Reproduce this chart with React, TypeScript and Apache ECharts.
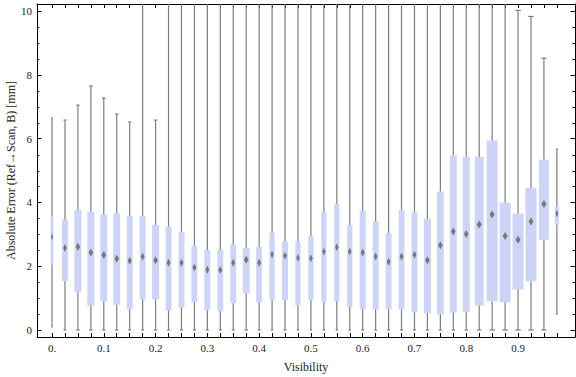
import React, { useEffect, useRef } from "react";
import * as echarts from "echarts";

// Visibility bins (box positions)
const visibility = [
  0, 0.025, 0.05, 0.075, 0.1, 0.125, 0.15, 0.175, 0.2, 0.225,
  0.25, 0.275, 0.3, 0.325, 0.35, 0.375, 0.4, 0.425, 0.45, 0.475,
  0.5, 0.525, 0.55, 0.575, 0.6, 0.625, 0.65, 0.675, 0.7, 0.725,
  0.75, 0.775, 0.8, 0.825, 0.85, 0.875, 0.9, 0.925, 0.95, 0.975,
];
const whiskerLow = [
  0.1, 0, 0, 0, 0, 0, 0, 0, 0, 0,
  0, 0, 0, 0, 0, 0, 0, 0, 0, 0,
  0, 0, 0, 0, 0, 0, 0, 0, 0, 0,
  0, 0, 0, 0, 0, 0, 0, 0, 0, 0.5,
];
const q1 = [
  2.05, 1.53, 1.18, 0.76, 0.9, 0.79, 0.65, 0.96, 0.96, 0.61,
  0.71, 0.87, 0.62, 0.59, 0.84, 1.15, 0.87, 0.94, 0.94, 0.77,
  0.94, 0.87, 0.9, 0.71, 0.65, 0.65, 0.65, 0.65, 0.55, 0.52,
  0.49, 0.55, 0.56, 0.77, 0.9, 0.87, 1.27, 1.53, 2.83, 3.3,
];
const median = [
  2.92, 2.57, 2.61, 2.43, 2.35, 2.23, 2.17, 2.3, 2.19, 2.11,
  2.11, 1.96, 1.89, 1.88, 2.11, 2.2, 2.11, 2.37, 2.33, 2.26,
  2.25, 2.46, 2.59, 2.46, 2.43, 2.3, 2.14, 2.3, 2.36, 2.19,
  2.66, 3.09, 3.01, 3.31, 3.62, 2.95, 2.83, 3.4, 3.95, 3.65,
];
const q3 = [
  3.57, 3.46, 3.77, 3.71, 3.62, 3.65, 3.58, 3.58, 3.3, 3.24,
  3.08, 2.64, 2.51, 2.51, 2.68, 2.58, 2.6, 3.05, 2.77, 2.77,
  2.95, 3.71, 3.96, 3.3, 3.74, 3.4, 3.05, 3.77, 3.71, 3.49,
  4.34, 5.48, 5.43, 5.43, 5.94, 3.99, 3.65, 4.46, 5.34, 3.87,
];
// values beyond the plot range (> 10.2) are clipped in the picture
const whiskerHigh = [
  6.65, 6.58, 7.05, 7.65, 7.27, 6.77, 6.52, 12, 6.58, 12,
  12, 12, 12, 12, 12, 12, 12, 12, 12, 12,
  12, 12, 12, 12, 12, 12, 12, 12, 12, 12,
  12, 12, 12, 12, 12, 12, 10.02, 9.83, 8.52, 5.67,
];
// relative box width (fraction of the bin spacing)
const boxWeight = [
  0.23, 0.46, 0.54, 0.54, 0.54, 0.54, 0.46, 0.46, 0.54, 0.46,
  0.46, 0.46, 0.46, 0.46, 0.46, 0.54, 0.46, 0.4, 0.46, 0.4,
  0.4, 0.4, 0.4, 0.4, 0.46, 0.46, 0.46, 0.46, 0.46, 0.54,
  0.54, 0.54, 0.54, 0.69, 0.85, 0.85, 0.85, 0.85, 0.77, 0.31,
];

const xLabelValues = [0, 0.1, 0.2, 0.3, 0.4, 0.5, 0.6, 0.7, 0.8, 0.9];
const xTickLabels = ["0.", "0.1", "0.2", "0.3", "0.4", "0.5", "0.6", "0.7", "0.8", "0.9"];
const yMajorTicks = [0, 2, 4, 6, 8, 10];
const yMinorTicks = [
  0.5, 1, 1.5, 2.5, 3, 3.5, 4.5, 5, 5.5, 6.5, 7, 7.5, 8.5, 9, 9.5,
];

const X_MIN = -0.029;
const X_MAX = 1.01;
const Y_MIN = -0.22;
const Y_MAX = 10.22;
const BIN = 0.025;

const FONT = "'Liberation Serif', 'DejaVu Serif', serif";
const TEXT = "#222";
const BOX = "#CDD4F5";
const WHISKER = "#7d7d7d";
const MEDIAN = "#777";

export default function App() {
  const ref = useRef<HTMLDivElement>(null);

  useEffect(() => {
    if (!ref.current) return;
    const chart = echarts.init(ref.current, undefined, { renderer: "svg" });

    const data = visibility.map((v, i) => [
      v,
      whiskerLow[i],
      q1[i],
      median[i],
      q3[i],
      whiskerHigh[i],
      boxWeight[i],
    ]);

    const lineStyle = { color: "#000", width: 1 };

    const option: any = {
      animation: false,
      textStyle: { fontFamily: FONT },
      grid: { left: 37, right: 1, top: 4, bottom: 40, outerBoundsMode: "none", containLabel: false },
      xAxis: [
        {
          type: "value",
          position: "bottom",
          min: X_MIN,
          max: X_MAX,
          name: "Visibility",
          nameLocation: "middle",
          nameGap: 24,
          nameMoveOverlap: false,
          nameTextStyle: { fontFamily: FONT, fontSize: 12, color: TEXT },
          axisLine: { show: true, onZero: false, lineStyle },
          axisTick: {
            show: true,
            inside: true,
            length: 4,
            customValues: visibility,
            lineStyle,
          },
          axisLabel: {
            show: true,
            customValues: xLabelValues,
            margin: 5,
            fontFamily: FONT,
            fontSize: 11,
            color: TEXT,
            formatter: (v: number) => {
              const k = xLabelValues.findIndex((t) => Math.abs(t - v) < 1e-6);
              return k >= 0 ? xTickLabels[k] : "";
            },
          },
          splitLine: { show: false },
        },
        {
          type: "value",
          position: "top",
          min: X_MIN,
          max: X_MAX,
          axisLine: { show: true, onZero: false, lineStyle },
          axisTick: {
            show: true,
            inside: true,
            length: 4,
            customValues: visibility,
            lineStyle,
          },
          axisLabel: { show: false },
          splitLine: { show: false },
        },
      ],
      yAxis: [
        {
          type: "value",
          position: "left",
          min: Y_MIN,
          max: Y_MAX,
          name: "Absolute Error (Ref\u2192Scan, B) [mm]",
          nameLocation: "middle",
          nameGap: 20,
          nameMoveOverlap: false,
          nameTextStyle: { fontFamily: FONT, fontSize: 12, color: TEXT },
          axisLine: { show: true, onZero: false, lineStyle },
          axisTick: {
            show: true,
            inside: true,
            length: 4.5,
            customValues: yMajorTicks,
            lineStyle,
          },
          axisLabel: {
            show: true,
            customValues: yMajorTicks,
            margin: 5,
            fontFamily: FONT,
            fontSize: 11,
            color: TEXT,
          },
          splitLine: { show: false },
        },
        {
          type: "value",
          position: "right",
          min: Y_MIN,
          max: Y_MAX,
          axisLine: { show: true, onZero: false, lineStyle },
          axisTick: {
            show: true,
            inside: true,
            length: 4.5,
            customValues: yMajorTicks,
            lineStyle,
          },
          axisLabel: { show: false },
          splitLine: { show: false },
        },
      ],
      series: [
        {
          // minor ticks on left and right frame
          type: "custom",
          xAxisIndex: 0,
          yAxisIndex: 0,
          clip: false,
          silent: true,
          data: yMinorTicks.map((v) => [X_MIN, v]),
          encode: { x: 0, y: 1 },
          renderItem: (params: any, api: any) => {
            const cs = params.coordSys;
            const p = api.coord([X_MIN, api.value(1)]);
            const y = Math.round(p[1]) + 0.5;
            const st = { stroke: "#000", lineWidth: 1 };
            return {
              type: "group",
              children: [
                { type: "line", shape: { x1: cs.x, y1: y, x2: cs.x + 2.5, y2: y }, style: st },
                {
                  type: "line",
                  shape: { x1: cs.x + cs.width - 2.5, y1: y, x2: cs.x + cs.width, y2: y },
                  style: st,
                },
              ],
            };
          },
        },
        {
          type: "custom",
          xAxisIndex: 0,
          yAxisIndex: 0,
          clip: true,
          data,
          encode: { x: 0, y: [1, 2, 3, 4, 5] },
          renderItem: (params: any, api: any) => {
            const x = api.value(0);
            const lo = api.value(1);
            const a = api.value(2);
            const m = api.value(3);
            const b = api.value(4);
            const hi = api.value(5);
            const wf = api.value(6);
            const slot = api.size([BIN, 0])[0];
            const w = slot * wf;
            const pLo = api.coord([x, lo]);
            const pA = api.coord([x, a]);
            const pM = api.coord([x, m]);
            const pB = api.coord([x, b]);
            const pHi = api.coord([x, hi]);
            const cx = pLo[0];
            const capHalf = w / 4;
            const dHalfW = Math.min(2.5, w * 0.33);
            const dHalfH = 4;
            const wl = { stroke: WHISKER, lineWidth: 1.2 };
            return {
              type: "group",
              children: [
                {
                  type: "line",
                  shape: { x1: cx, y1: pLo[1], x2: cx, y2: pHi[1] },
                  style: wl,
                },
                {
                  type: "line",
                  shape: { x1: cx - capHalf, y1: pLo[1], x2: cx + capHalf, y2: pLo[1] },
                  style: wl,
                },
                {
                  type: "line",
                  shape: { x1: cx - capHalf, y1: pHi[1], x2: cx + capHalf, y2: pHi[1] },
                  style: wl,
                },
                {
                  type: "rect",
                  shape: { x: cx - w / 2, y: pB[1], width: w, height: pA[1] - pB[1] },
                  style: { fill: BOX },
                },
                {
                  type: "polygon",
                  shape: {
                    points: [
                      [cx, pM[1] - dHalfH],
                      [cx + dHalfW, pM[1]],
                      [cx, pM[1] + dHalfH],
                      [cx - dHalfW, pM[1]],
                    ],
                  },
                  style: { fill: MEDIAN },
                },
              ],
            };
          },
        },
      ],
    };

    chart.setOption(option);
    return () => chart.dispose();
  }, []);

  return (
    <div
      ref={ref}
      style={{ position: "fixed", left: 0, top: 0, width: 576, height: 377, background: "#fff" }}
    />
  );
}
